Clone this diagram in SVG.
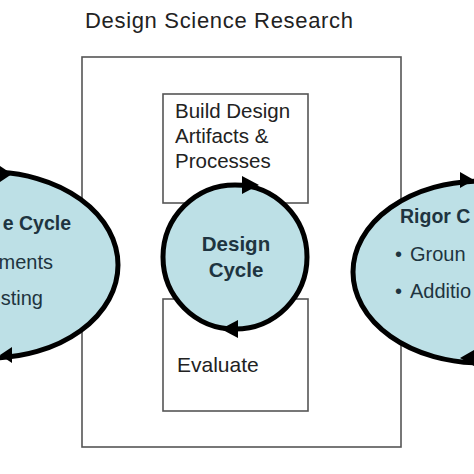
<svg xmlns="http://www.w3.org/2000/svg" width="474" height="474" viewBox="0 0 474 474">
<style>
.box{fill:#ffffff;stroke:#555555;stroke-width:1.6}
.cyc{fill:#bde0e6;stroke:#000000;stroke-width:5}
.arr{fill:#000000}
.t{font-family:"Liberation Sans",Arial,sans-serif;fill:#222222}
.b{font-family:"Liberation Sans",Arial,sans-serif;font-weight:bold;fill:#1e3440}
.c{font-family:"Liberation Sans",Arial,sans-serif;fill:#1e3440}
</style>
<rect width="474" height="474" fill="#ffffff"/>
<text class="t" x="85" y="28" font-size="22" textLength="268">Design Science Research</text>
<g id="dsr-box"><rect class="box" x="82" y="57" width="319" height="390"/></g>
<g id="build"><rect class="box" x="163" y="94" width="145" height="109"/>
<text class="t" font-size="20.5"><tspan x="175" y="118">Build Design</tspan><tspan x="175" y="143">Artifacts &amp;</tspan><tspan x="175" y="168">Processes</tspan></text></g>
<g id="evaluate"><rect class="box" x="163" y="299" width="145" height="112"/>
<text class="t" x="177" y="372" font-size="21">Evaluate</text></g>
<g id="relevance"><ellipse class="cyc" cx="-10" cy="265" rx="128" ry="93"/>
<text class="b" x="71" y="230" font-size="19.5" text-anchor="end">e Cycle</text>
<text class="c" x="53" y="269" font-size="20" text-anchor="end">ments</text>
<text class="c" x="43" y="305" font-size="20" text-anchor="end">sting</text></g>
<g id="design-cycle"><circle class="cyc" cx="235" cy="257" r="72"/>
<text class="b" x="236" y="251" font-size="20.5" text-anchor="middle">Design</text>
<text class="b" x="236" y="277" font-size="20.5" text-anchor="middle">Cycle</text></g>
<g id="rigor"><ellipse class="cyc" cx="481" cy="272" rx="128" ry="91"/>
<text class="b" x="400" y="223" font-size="19.5">Rigor C</text>
<text class="c" x="395" y="261" font-size="20">•</text>
<text class="c" x="410" y="261" font-size="20">Groun</text>
<text class="c" x="395" y="298" font-size="20">•</text>
<text class="c" x="410" y="298" font-size="20">Additio</text></g>
<g id="connectors">
<polygon class="arr" points="259,185 242,176 242,194"/>
<polygon class="arr" points="221,329 238,320 238,338"/>
<polygon class="arr" points="12,174 0,166 0,182"/>
<polygon class="arr" points="0,355 12,347 12,363"/>
<polygon class="arr" points="474,180 460,172 460,188"/>
<polygon class="arr" points="460,358 474,350 474,366"/>
</g>
</svg>
